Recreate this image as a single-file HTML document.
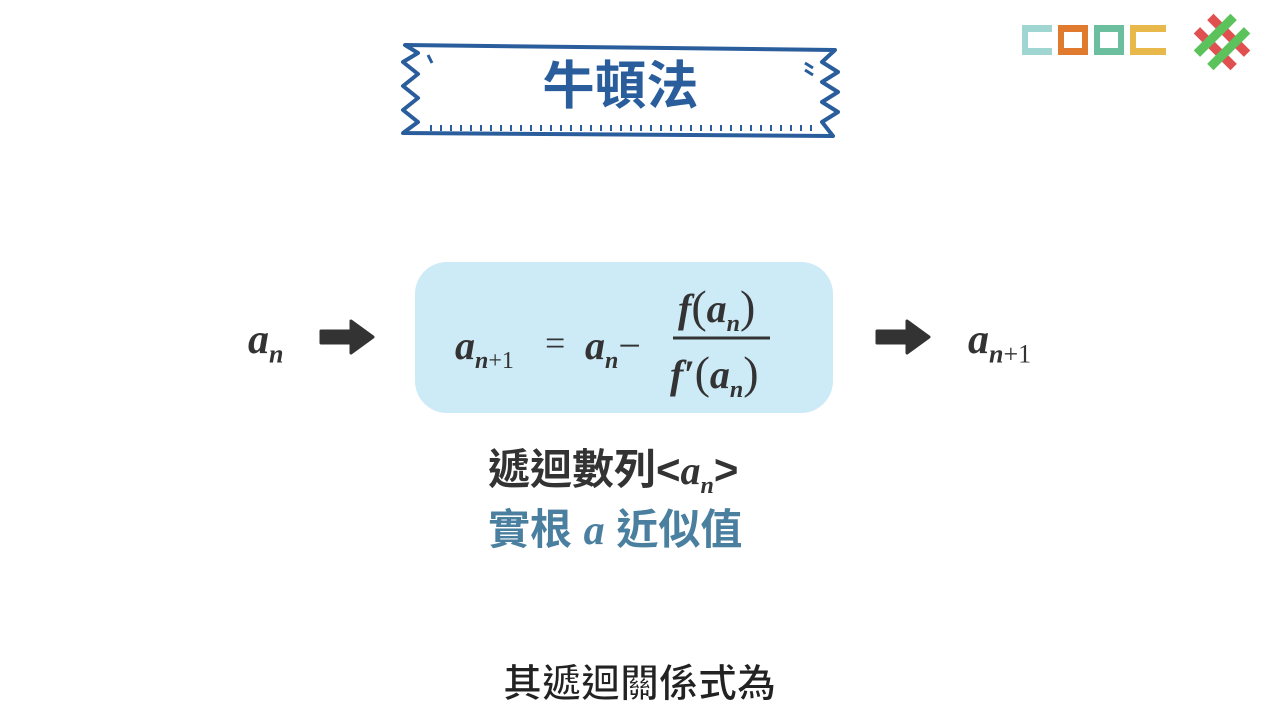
<!DOCTYPE html>
<html><head><meta charset="utf-8"><style>
body{margin:0;width:1280px;height:720px;background:#fff;position:relative;overflow:hidden;font-family:"Liberation Sans","Noto Sans CJK TC",sans-serif}
.a{position:absolute}
.m{font-family:"Liberation Serif",serif;font-style:italic;font-weight:bold;color:#333}
.p{font-style:normal;font-weight:normal}
.cj{font-family:"Liberation Sans","Noto Sans CJK TC",sans-serif;font-weight:bold}
</style></head><body>
<svg class="a" style="left:0;top:0" width="1280" height="720">
<path d="M405 45 L835 50 L822 62 L838 72 L822 82 L838 92 L822 102 L838 112 L822 122 L833 136 L403 133 L418 122 L403 110 L418 98 L403 86 L418 74 L403 62 L418 53 Z" fill="#fff" stroke="#2a5d9c" stroke-width="4" stroke-linejoin="round"/>
<path d="M430 128 L820 128" stroke="#2a5d9c" stroke-width="6" stroke-dasharray="2 8"/>
<path d="M428 55 l4 8 M805 63 l8 5 M805 70 l8 5" stroke="#2a5d9c" stroke-width="3"/>
<rect x="415" y="262" width="418" height="151" rx="32" fill="#cdeaf7"/>
<path d="M321 331 h30 v-10 l22 16 l-22 16 v-10 h-30 z" fill="#333" stroke="#333" stroke-width="3" stroke-linejoin="round"/>
<path d="M877 331 h30 v-10 l22 16 l-22 16 v-10 h-30 z" fill="#333" stroke="#333" stroke-width="3" stroke-linejoin="round"/>
<line x1="673" y1="338" x2="770" y2="338" stroke="#333" stroke-width="3"/>
<g transform="translate(1022,25)">
<rect x="0" y="0" width="30" height="30" fill="#9fd6d2"/><rect x="6" y="7" width="24" height="16" fill="#fff"/>
<rect x="36" y="0" width="30" height="30" fill="#e07a2e"/><rect x="42" y="7" width="18" height="16" fill="#fff"/>
<rect x="72" y="0" width="30" height="30" fill="#6cbf9e"/><rect x="78" y="7" width="18" height="16" fill="#fff"/>
<rect x="108" y="0" width="36" height="30" fill="#e8b84a"/><rect x="114" y="7" width="30" height="16" fill="#fff"/>
</g>
<g transform="translate(1222,42) rotate(45)">
<rect x="-26" y="-14" width="52" height="9" fill="#e05050"/><rect x="-26" y="5" width="52" height="9" fill="#e05050"/>
<rect x="-14" y="-26" width="9" height="52" fill="#5cc25c"/><rect x="5" y="-26" width="9" height="52" fill="#5cc25c"/>
</g>
</svg>
<div class="a cj" style="left:403px;width:435px;top:52px;text-align:center;font-size:52px;color:#2a5d9c;line-height:70px">牛頓法</div>
<div class="a m" style="left:248px;top:316px;font-size:42px">a<sub style="font-size:26px">n</sub></div>
<div class="a m" style="left:968px;top:316px;font-size:42px">a<sub style="font-size:26px">n<span class="p">+1</span></sub></div>
<div class="a m" style="left:455px;top:322px;font-size:40px">a<sub style="font-size:24px">n<span class="p">+1</span></sub></div>
<div class="a m p" style="left:545px;top:322px;font-size:36px">=</div>
<div class="a m" style="left:585px;top:322px;font-size:40px">a<sub style="font-size:24px">n</sub><span class="p">−</span></div>
<div class="a m" style="left:678px;top:280px;font-size:40px">f<span class="p" style="font-size:46px">(</span>a<sub style="font-size:24px">n</sub><span class="p" style="font-size:46px">)</span></div>
<div class="a m" style="left:670px;top:346px;font-size:40px">f′<span class="p" style="font-size:46px">(</span>a<sub style="font-size:24px">n</sub><span class="p" style="font-size:46px">)</span></div>
<div class="a cj" style="left:488px;top:444px;font-size:42px;color:#333;line-height:52px">遞迴數列&lt;<span class="m" style="font-size:40px">a<sub style="font-size:24px">n</sub></span>&gt;</div>
<div class="a cj" style="left:488px;top:504px;font-size:42px;color:#4a7fa0;line-height:52px">實根 <span class="m" style="color:#4a7fa0">a</span> 近似值</div>
<div class="a cj" style="left:503px;top:660px;font-size:39px;color:#222;line-height:50px;-webkit-text-stroke:1px #fff">其遞迴關係式為</div>
</body></html>
